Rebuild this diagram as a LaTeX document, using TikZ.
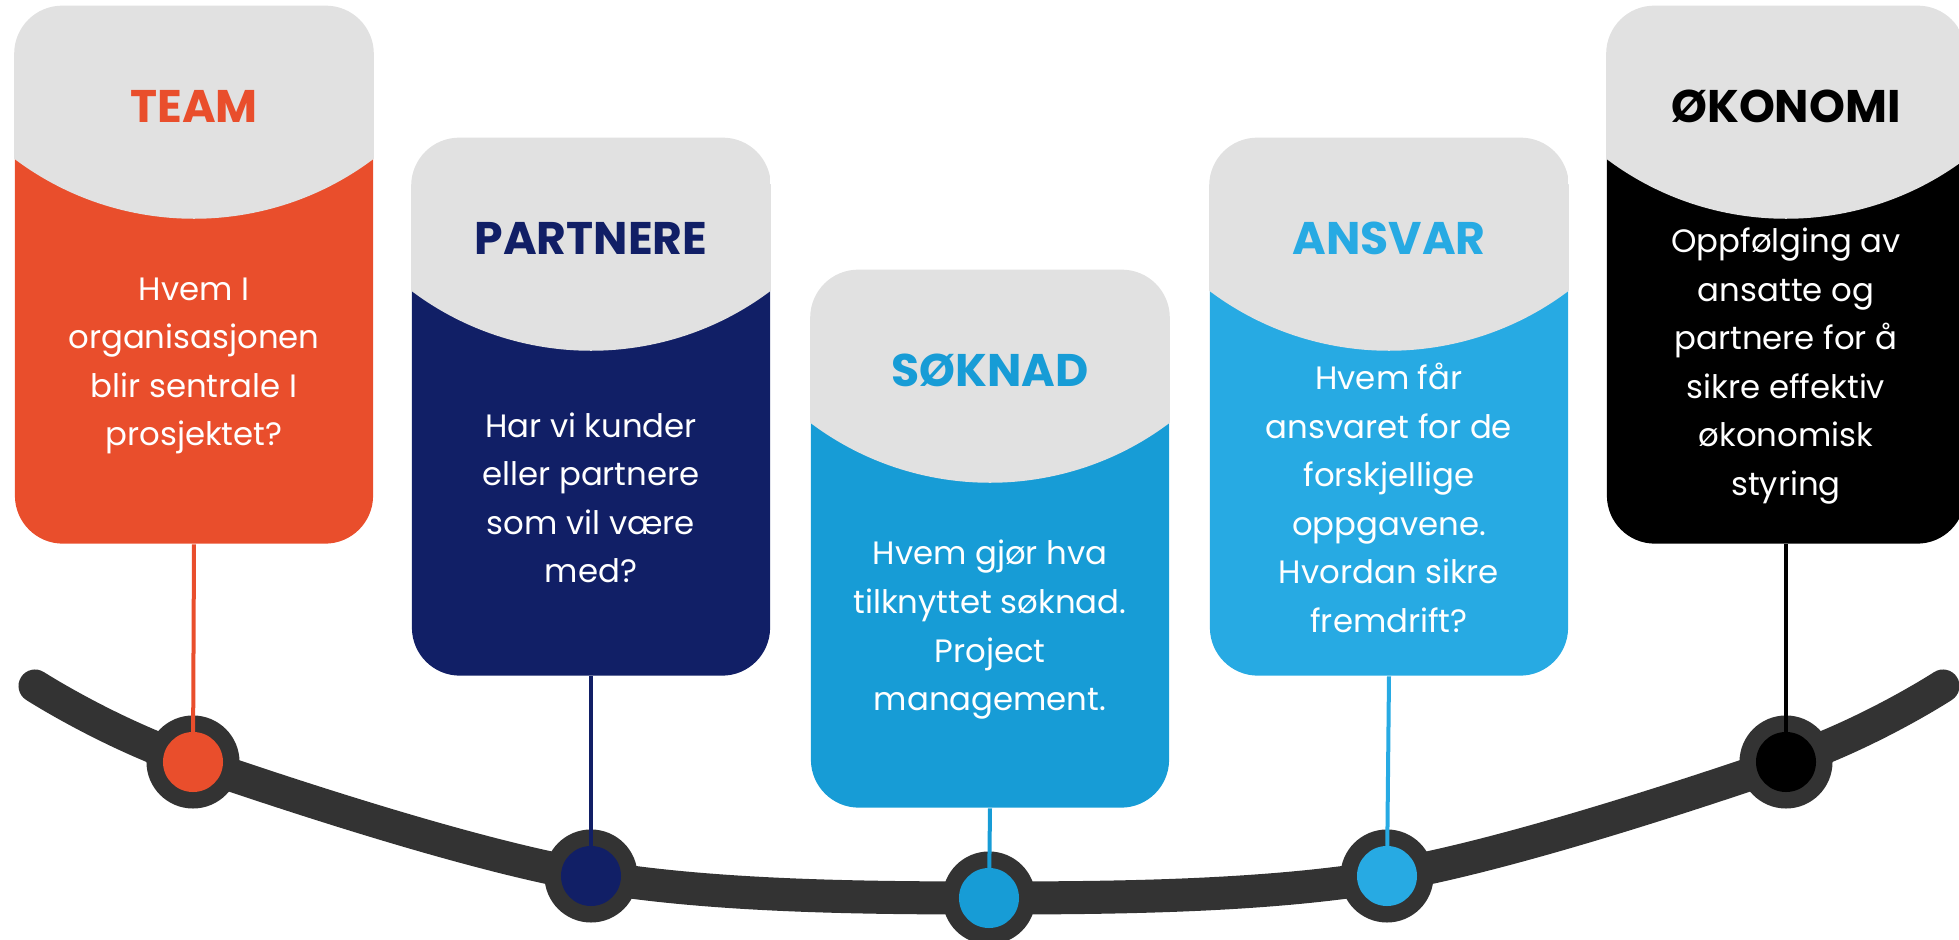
\documentclass[tikz,border=0pt]{standalone}
\usepackage{fontspec}
\setmainfont{Poppins}
\usepackage{tikz}
\usetikzlibrary{shapes}
\definecolor{teamorange}{HTML}{E94E2C}
\definecolor{partnernavy}{HTML}{111F66}
\definecolor{soknadblue}{HTML}{179CD6}
\definecolor{ansvarblue}{HTML}{27AAE3}
\definecolor{okonomiblack}{HTML}{000000}
\definecolor{capgray}{HTML}{E1E1E1}
\definecolor{curvegray}{HTML}{333333}
\tikzset{
  card/.style={rectangle, rounded corners=0.48cm, minimum width=3.58cm, minimum height=5.37cm, inner sep=0pt},
  cardtitle/.style={inner sep=0pt, font=\fontsize{13pt}{15pt}\selectfont\bfseries},
  cardtext/.style={inner sep=0pt, align=center, text=white, font=\fontsize{9.2pt}{13.8pt}\selectfont},
  ring/.style={circle, fill=curvegray, minimum size=0.93cm, inner sep=0pt},
  dot/.style={circle, minimum size=0.6cm, inner sep=0pt},
  pin/.style={line width=0.04cm},
  curve/.style={curvegray, line width=0.33cm, line cap=round}
}
\newcommand{\stagecard}[5] {
\node at (#2) (#1) [card, fill=#3] {};
\begin{scope}
\clip [rounded corners=0.48cm] (#1.north west) rectangle (#1.south east);
\fill [capgray] (#1.north west) -- (#1.north east) -- ([yshift=-1.53cm]#1.north east) .. controls ([xshift=-1.06cm, yshift=-2.33cm]#1.north east) and ([xshift=1.06cm, yshift=-2.33cm]#1.north west) .. ([yshift=-1.53cm]#1.north west) -- cycle;
\end{scope}
\node at ([yshift=-1.01cm]#1.north) (#1-title) [cardtitle, text=#3] {#4};
\node at ([yshift=-3.6cm]#1.north) (#1-text) [cardtext] {#5};
\node at (#1-pin) (#1-ring) [ring] {};
\draw [pin, #3] (#1.south) -- (#1-ring.center);
\node at (#1-pin) (#1-dot) [dot, fill=#3] {};
}
\begin{document}
\begin{tikzpicture}[x=0.01cm, y=-0.01cm]
\useasboundingbox (0,0) rectangle (1959,940);
\coordinate (left-end) at (35,686);
\coordinate (team-pin) at (193,762);
\coordinate (partnere-pin) at (591,876);
\coordinate (soknad-pin) at (989,898);
\coordinate (ansvar-pin) at (1387,876);
\coordinate (okonomi-pin) at (1786,762);
\coordinate (right-end) at (1943,686);
\draw [curve] plot [smooth, tension=0.55] coordinates {(left-end) (team-pin) (partnere-pin) (soknad-pin) (ansvar-pin) (okonomi-pin) (right-end)};
\stagecard{team}{194,275}{teamorange}{TEAM}{Hvem I\\organisasjonen\\blir sentrale I\\prosjektet?}
\stagecard{partnere}{591,407}{partnernavy}{PARTNERE}{Har vi kunder\\eller partnere\\som vil være\\med?}
\stagecard{soknad}{990,539}{soknadblue}{SØKNAD}{Hvem gjør hva\\tilknyttet søknad.\\Project\\management.}
\stagecard{ansvar}{1389,407}{ansvarblue}{ANSVAR}{Hvem får\\ansvaret for de\\forskjellige\\oppgavene.\\Hvordan sikre\\fremdrift?}
\stagecard{okonomi}{1786,275}{okonomiblack}{ØKONOMI}{Oppfølging av\\ansatte og\\partnere for å\\sikre effektiv\\økonomisk\\styring}
\end{tikzpicture}
\end{document}
